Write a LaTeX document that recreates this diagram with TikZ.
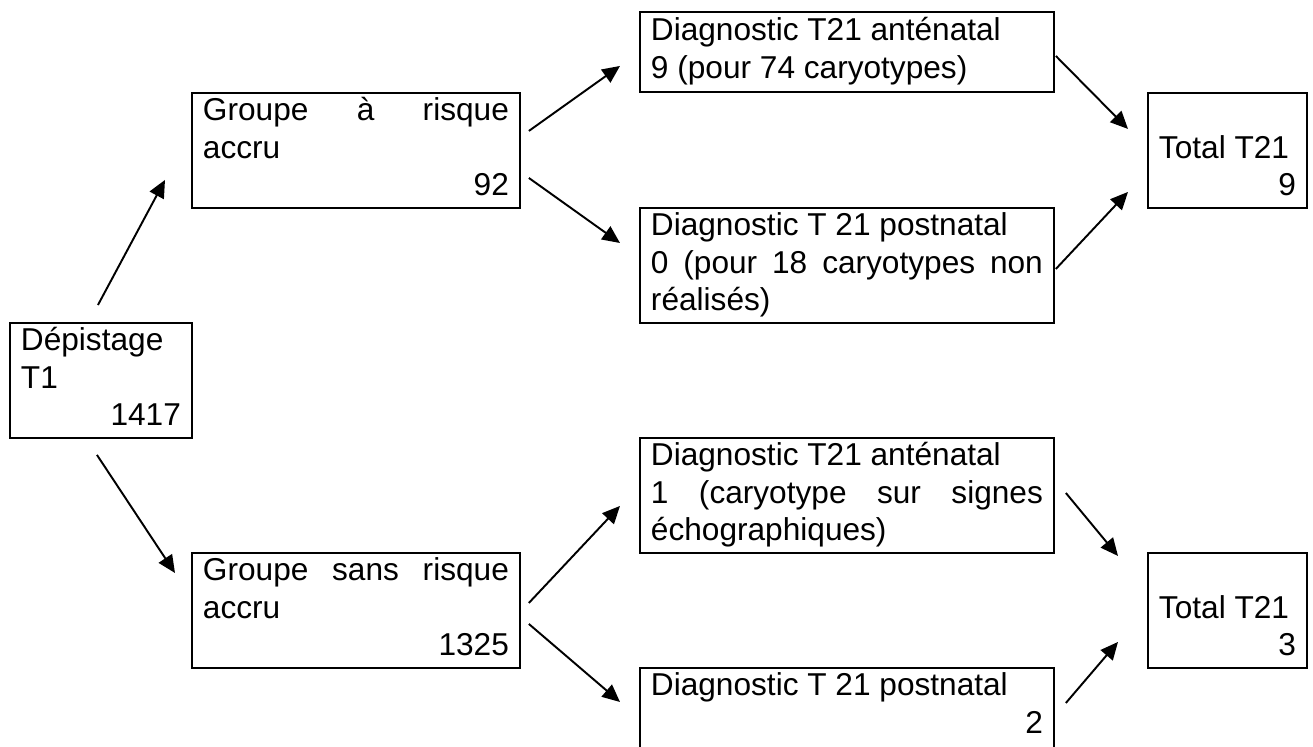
\documentclass[tikz,border=0pt]{standalone}
\usepackage{fontspec}
\setmainfont{Liberation Sans}
\usepackage{tikz}
\usetikzlibrary{calc, arrows.meta}

\begin{document}
\begin{tikzpicture}[
        x=0.02cm, y=-0.02cm, % one unit = one pixel, y going down
        box/.style={rectangle, draw=black, line width=1.1pt, anchor=north west,
            inner xsep=0.22cm, inner ysep=0pt, align=justify,
            font=\fontsize{18}{21.5}\selectfont,
            execute at begin node=\strut, execute at end node=\strut},
        arr/.style={line width=1.1pt, -{Triangle[length=10pt, width=9pt]}}
    ]
    \useasboundingbox (0,0) rectangle (1313,747);
    \clip (0,0) rectangle (1313,747);

    % first column
    \node[box, text width=3.20cm, minimum height=2.3cm] (dep) at (9,322)
        {Dépistage\\ T1\\ \mbox{}\hfill 1417};

    % groups
    \node[box, text width=6.12cm, minimum height=2.3cm] (grpA) at (191,92)
        {Groupe à risque\linebreak accru\\ \mbox{}\hfill 92};
    \node[box, text width=6.12cm, minimum height=2.3cm] (grpS) at (191,552)
        {Groupe sans risque\linebreak accru\\ \mbox{}\hfill 1325};

    % diagnostics
    \node[box, text width=7.84cm, minimum height=1.6cm] (diagA) at (639,11)
        {Diagnostic T21 anténatal\\ 9 (pour 74 caryotypes)};
    \node[box, text width=7.84cm, minimum height=2.3cm] (postA) at (639,207)
        {Diagnostic T 21 postnatal\\ 0 (pour 18 caryotypes non\linebreak réalisés)};
    \node[box, text width=7.84cm, minimum height=2.3cm] (diagS) at (639,437)
        {Diagnostic T21 anténatal\\ 1 (caryotype sur signes\linebreak échographiques)};
    \node[box, text width=7.84cm, minimum height=2.3cm] (postS) at (639,667)
        {Diagnostic T 21 postnatal\\ \mbox{}\hfill 2\\ \mbox{}};

    % totals
    \node[box, text width=2.74cm, minimum height=2.3cm] (totA) at (1147,92)
        {\mbox{}\\ Total T21\\ \mbox{}\hfill 9};
    \node[box, text width=2.74cm, minimum height=2.3cm] (totS) at (1147,552)
        {\mbox{}\\ Total T21\\ \mbox{}\hfill 3};

    % arrows, not touching the boxes
    \draw[arr] ($(dep.north)+(-3,-17)$) -- ($(grpA.south west)+(-26,-29)$);
    \draw[arr] ($(dep.south)+(-4,16)$) -- ($(grpS.north west)+(-16,21)$);
    \draw[arr] ($(grpA.east)+(8,-19.5)$) -- ($(diagA.west)+(-19,14)$);
    \draw[arr] ($(grpA.east)+(8,27.5)$) -- ($(postA.north west)+(-19,36)$);
    \draw[arr] ($(diagA.east)+(1,4)$) -- ($(totA.west)+(-19,-21.5)$);
    \draw[arr] ($(postA.east)+(1,3.5)$) -- ($(totA.west)+(-19,41.5)$);
    \draw[arr] ($(grpS.east)+(8,-7.5)$) -- ($(diagS.west)+(-19,10.5)$);
    \draw[arr] ($(grpS.east)+(8,13.5)$) -- ($(postS.north west)+(-19,35)$);
    \draw[arr] ($(diagS.east)+(11,-2.5)$) -- ($(totS.west)+(-29,-54.5)$);
    \draw[arr] ($(postS.north east)+(11,36)$) -- ($(totS.west)+(-29,31.5)$);
\end{tikzpicture}
\end{document}
